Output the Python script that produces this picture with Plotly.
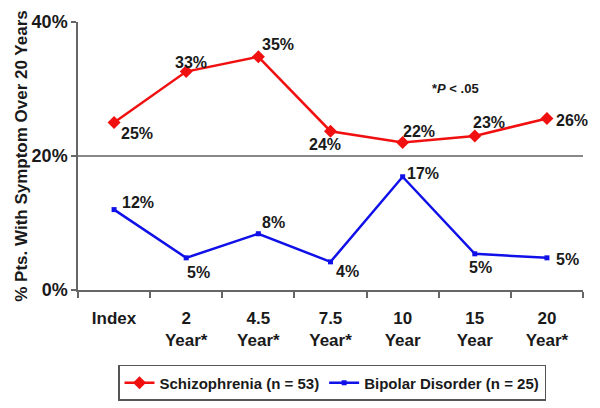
import plotly.graph_objects as go

categories = ["Index", "2<br>Year*", "4.5<br>Year*", "7.5<br>Year*", "10<br>Year", "15<br>Year", "20<br>Year*"]
schizophrenia = [25.0, 32.6, 34.8, 23.7, 22.0, 23.0, 25.6]
schizo_labels = ["25%", "33%", "35%", "24%", "22%", "23%", "26%"]
bipolar = [12.0, 4.8, 8.4, 4.2, 16.9, 5.4, 4.8]
bipolar_labels = ["12%", "5%", "8%", "4%", "17%", "5%", "5%"]
y_ticks = [0, 20, 40]
y_tick_labels = ["0%", "20%", "40%"]

# label offsets from each marker, in pixels (dx right, dy down)
schizo_off = [(23, 11), (5, -9), (20, -12), (-6, 13), (16, -11), (14, -13), (25, 2)]
bipolar_off = [(24, -7), (12, 15), (15, -11), (17, 10), (20, -3), (6, 14), (21, 2)]

FONT = "Liberation Sans, Arial, sans-serif"
TXT = "#1a1a1a"
RED = "#f01010"
BLUE = "#1010e8"

fig = go.Figure()
fig.add_trace(go.Scatter(
    x=categories, y=schizophrenia, mode="lines+markers",
    name="Schizophrenia (n = 53)",
    line=dict(color=RED, width=2.5),
    marker=dict(symbol="diamond", size=10, color=RED),
    cliponaxis=False,
))
fig.add_trace(go.Scatter(
    x=categories, y=bipolar, mode="lines+markers",
    name="Bipolar Disorder (n = 25)",
    line=dict(color=BLUE, width=2.5),
    marker=dict(symbol="square", size=5, color=BLUE),
    cliponaxis=False,
))

for vals, labels, offs in ((schizophrenia, schizo_labels, schizo_off),
                           (bipolar, bipolar_labels, bipolar_off)):
    for cat, v, lab, (dx, dy) in zip(categories, vals, labels, offs):
        fig.add_annotation(
            x=cat, y=v, xref="x", yref="y", text=lab, showarrow=False,
            xanchor="center", yanchor="middle", xshift=dx, yshift=-dy,
            font=dict(family=FONT, size=16, color=TXT, weight="bold"),
        )

fig.add_annotation(
    x=4.73, y=30.1, xref="x", yref="y",
    text="*<i>P</i> < .05", showarrow=False,
    font=dict(family=FONT, size=13, color=TXT, weight="bold"),
)

fig.update_layout(
    width=600, height=408,
    margin=dict(l=78, r=17, t=22, b=118, autoexpand=False),
    paper_bgcolor="white", plot_bgcolor="white",
    font=dict(family=FONT, color=TXT),
    showlegend=True,
    legend=dict(
        orientation="h", x=0.503, y=-0.347, xanchor="center", yanchor="middle",
        bordercolor="#555", borderwidth=1.5,
        font=dict(family=FONT, size=15, color=TXT, weight="bold"),
        tracegroupgap=0,
    ),
    xaxis=dict(
        type="category", range=[-0.5, 6.5], automargin=False,
        tickson="boundaries", ticks="outside", ticklen=6, tickcolor="#666", tickwidth=1.5,
        showline=True, linecolor="#666", linewidth=1.5,
        showgrid=False, zeroline=False,
        tickfont=dict(family=FONT, size=17, color=TXT, weight="bold"),
        ticklabelstandoff=12,
    ),
    yaxis=dict(
        range=[0, 40], tickvals=y_ticks, ticktext=y_tick_labels, automargin=False,
        ticks="outside", ticklen=5, tickcolor="#666", tickwidth=1.5,
        showline=True, linecolor="#666", linewidth=1.5,
        showgrid=True, gridcolor="#888", gridwidth=1.5, zeroline=False,
        tickfont=dict(family=FONT, size=18, color=TXT, weight="bold"),
        title=dict(text="% Pts. With Symptom Over 20 Years",
                   font=dict(family=FONT, size=17, color=TXT, weight="bold"),
                   standoff=0),
    ),
)

fig.write_html("out.html", config={"displayModeBar": False},
               post_script="document.body.style.margin='0';")
